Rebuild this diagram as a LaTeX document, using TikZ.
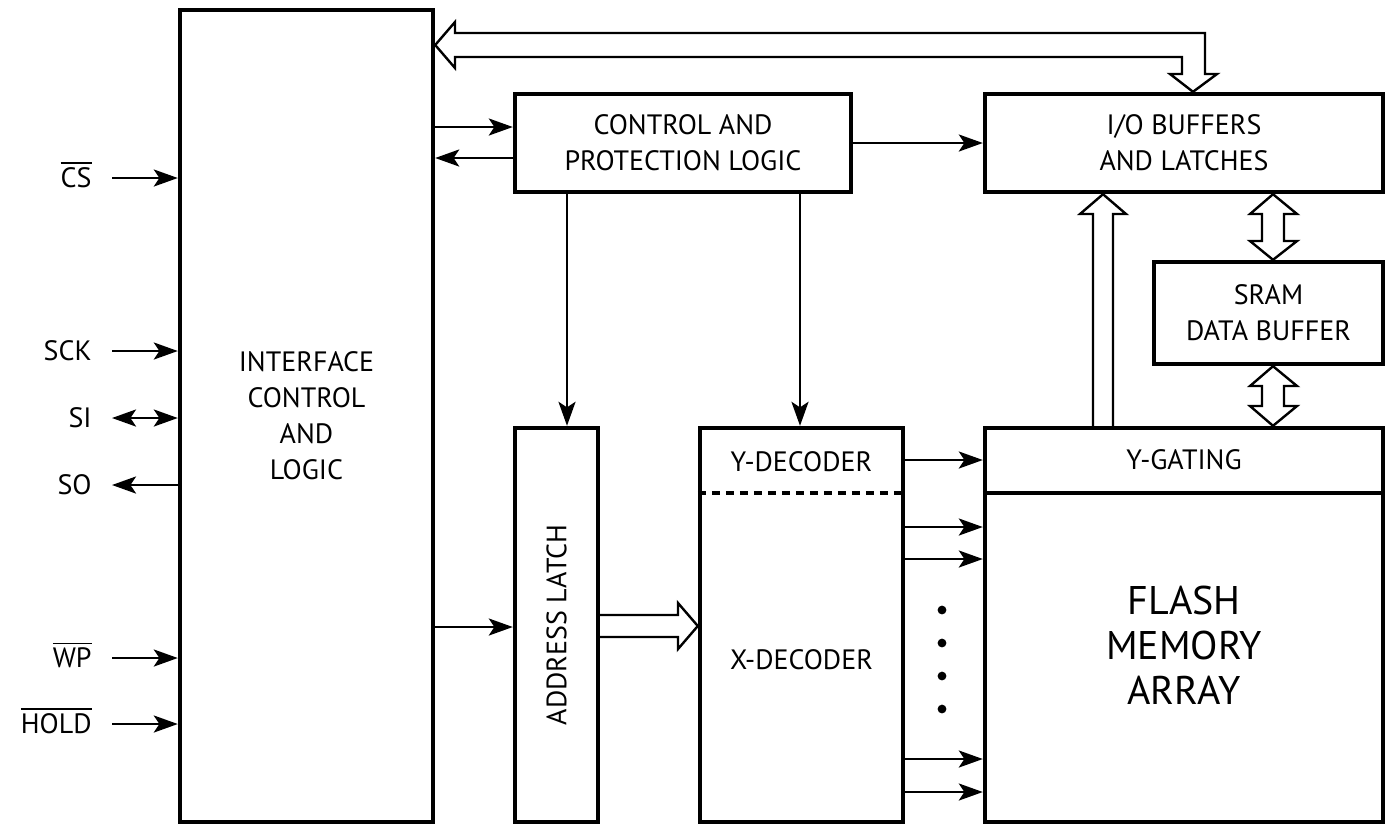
\documentclass[tikz,border=0pt]{standalone}
\usepackage{fontspec}
\usepackage{amsmath}
\setmainfont{PT Sans}
\usetikzlibrary{arrows.meta}

\begin{document}
\begin{tikzpicture}[x=0.5pt,y=-0.5pt,
  boxfont/.style={font=\fontsize{14}{18}\selectfont},
  blockbox/.style={draw,line width=2.2pt,inner sep=0pt,align=center,boxfont},
  pinlabel/.style={boxfont,inner sep=0pt,anchor=base east},
  sig/.style={-{Stealth[length=12pt,width=8.5pt,inset=2.8pt]},line width=1.4pt},
  sigboth/.style={{Stealth[length=12pt,width=8.5pt,inset=2.8pt]}-{Stealth[length=12pt,width=8.5pt,inset=2.8pt]},line width=1.4pt},
  fatarrow/.style={draw,fill=white,line width=1.2pt,line join=miter}]
  \useasboundingbox (0,0) rectangle (1390,827);

  % blocks
  \node[blockbox,minimum width=126.5pt,minimum height=406pt] (iface) at (306.5,416)
    {INTERFACE\\CONTROL\\AND\\LOGIC};
  \node[blockbox,minimum width=168pt,minimum height=49pt] (ctrl) at (683,143)
    {CONTROL AND\\PROTECTION LOGIC};
  \node[blockbox,minimum width=199pt,minimum height=49pt] (iobuf) at (1184,143)
    {I/O BUFFERS\\AND LATCHES};
  \node[blockbox,minimum width=114.5pt,minimum height=51pt] (sram) at (1268.5,313)
    {SRAM\\DATA BUFFER};
  \node[blockbox,minimum width=41.5pt,minimum height=197pt] (latch) at (556.5,625) {};
  \node[blockbox,minimum width=101.5pt,minimum height=197pt] (dec) at (801.5,625) {};
  \node[blockbox,minimum width=199pt,minimum height=197pt] (flash) at (1184,625) {};

  \node[boxfont,rotate=90] (latchtext) at (latch) {ADDRESS LATCH};
  \node[boxfont] (ydec) at (801.5,462) {Y-DECODER};
  \node[boxfont] (xdec) at (801.5,660) {X-DECODER};
  \node[boxfont] (ygate) at (1184,460) {Y-GATING};
  \node[align=center,font=\fontsize{20}{22.5}\selectfont] (arraytext) at (1184,645)
    {FLASH\\MEMORY\\ARRAY};

  \draw[line width=2.2pt] (flash.west |- 0,493) -- (flash.east |- 0,493);
  \draw[line width=2.2pt,dash pattern=on 4pt off 3pt] (dec.west |- 0,493) -- (dec.east |- 0,493);

  % pins
  \foreach \pin/\pinname/\y in {
    cs/{$\overline{\text{CS}}$}/178,
    sck/SCK/351,
    wp/{$\overline{\text{WP}}$}/658,
    hold/{$\overline{\text{HOLD}}$}/724
  } {
    \node[pinlabel] (\pin) at (92,\y+9) {\pinname};
    \coordinate (\pin-end) at (112,\y);
    \draw[sig] (\pin-end) -- (iface.west |- \pin-end);
  }
  \node[pinlabel] (si) at (92,427) {SI};
  \coordinate (si-end) at (112,418);
  \draw[sigboth] (si-end) -- (iface.west |- si-end);
  \node[pinlabel] (so) at (92,494) {SO};
  \coordinate (so-end) at (112,485);
  \draw[sig] (iface.west |- so-end) -- (so-end);

  % control lines
  \draw[sig] (iface.east |- 0,127) -- (ctrl.west |- 0,127);
  \draw[sig] (ctrl.west |- 0,158) -- (iface.east |- 0,158);
  \draw[sig] (ctrl.east) -- (iobuf.west);
  \draw[sig] (ctrl.south -| 567,0) -- (latch.north -| 567,0);
  \draw[sig] (ctrl.south -| 800,0) -- (dec.north -| 800,0);
  \draw[sig] (iface.east |- 0,627) -- (latch.west |- 0,627);
  \draw[sig] (dec.east |- 0,460) -- (flash.west |- 0,460);
  \foreach \y in {527,559,759,792} {
    \draw[sig] (dec.east |- 0,\y) -- (flash.west |- 0,\y);
  }
  \foreach \y in {610,643,676,709} {
    \fill (942,\y) circle (2.2pt);
  }

  % buses
  \draw[fatarrow] (455,33) -- (1205,33) -- (1205,74) -- (1217,74) -- (iobuf.north -| 1193,0)
    -- (1170,74) -- (1182,74) -- (1182,57) -- (455,57) -- (455,68)
    -- (iface.east |- 0,45) -- (455,22) -- cycle;
  \draw[fatarrow] (latch.east |- 0,615) -- (678,615) -- (678,603) -- (dec.west |- 0,626)
    -- (678,649) -- (678,637) -- (latch.east |- 0,637);
  \draw[fatarrow] (flash.north -| 1093,0) -- (1093,214) -- (1080,214) -- (iobuf.south -| 1103,0)
    -- (1126,214) -- (1113,214) -- (flash.north -| 1113,0);
  \draw[fatarrow] (iobuf.south -| 1273,0) -- (1297,214) -- (1284,214) -- (1284,241) -- (1297,241)
    -- (sram.north -| 1273,0) -- (1250,241) -- (1262,241) -- (1262,214) -- (1250,214) -- cycle;
  \draw[fatarrow] (sram.south -| 1273,0) -- (1297,386) -- (1284,386) -- (1284,406) -- (1297,406)
    -- (flash.north -| 1273,0) -- (1250,406) -- (1262,406) -- (1262,386) -- (1250,386) -- cycle;
\end{tikzpicture}
\end{document}
